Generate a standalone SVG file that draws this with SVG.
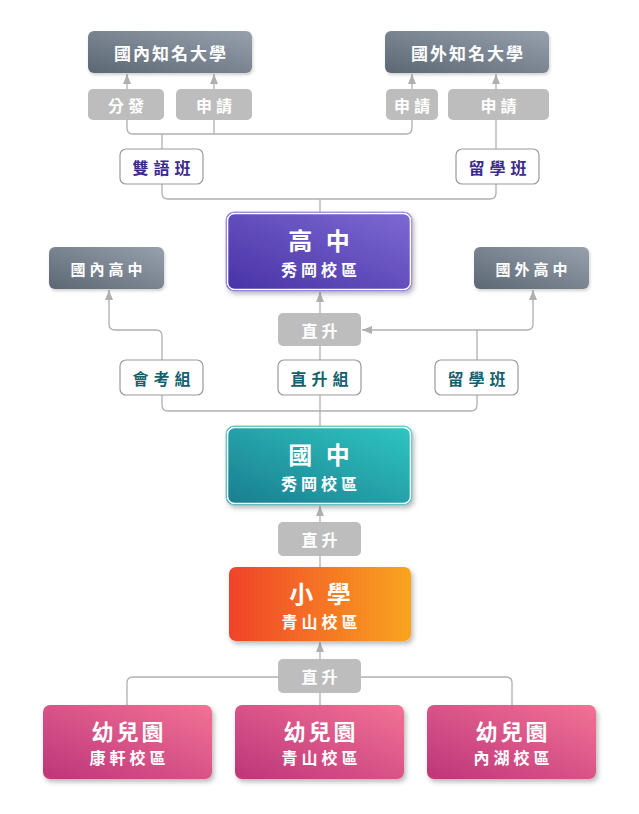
<svg xmlns="http://www.w3.org/2000/svg" width="639" height="814" viewBox="0 0 639 814">
<defs>
<linearGradient id="gGray" x1="0" y1="1" x2="1" y2="0"><stop offset="0" stop-color="#5c6774"/><stop offset="1" stop-color="#97a1ad"/></linearGradient>
<linearGradient id="gPurple" x1="0" y1="1" x2="1" y2="0"><stop offset="0" stop-color="#4832a6"/><stop offset="1" stop-color="#7d6ad3"/></linearGradient>
<linearGradient id="gTeal" x1="0" y1="1" x2="1" y2="0"><stop offset="0" stop-color="#1a7d8f"/><stop offset="1" stop-color="#2fc6c1"/></linearGradient>
<linearGradient id="gOrange" x1="0" y1="0" x2="1" y2="0"><stop offset="0" stop-color="#f0432a"/><stop offset="1" stop-color="#f9a41f"/></linearGradient>
<linearGradient id="gPink" x1="0" y1="1" x2="1" y2="0"><stop offset="0" stop-color="#bd357a"/><stop offset="1" stop-color="#f27295"/></linearGradient>
<filter id="sh" x="-10%" y="-20%" width="125%" height="150%"><feDropShadow dx="2" dy="3" stdDeviation="2.5" flood-color="#000" flood-opacity="0.28"/></filter>
<filter id="shs" x="-10%" y="-20%" width="125%" height="150%"><feDropShadow dx="1" dy="2" stdDeviation="1.5" flood-color="#000" flood-opacity="0.18"/></filter>
<marker id="arr" markerUnits="userSpaceOnUse" markerWidth="10" markerHeight="10" viewBox="0 0 10 10" refX="10" refY="5" orient="auto"><path d="M0,1 L10,5 L0,9 Z" fill="#b0b0b0"/></marker>
<style>
text{font-family:"Noto Sans CJK TC","Noto Sans CJK SC",sans-serif;font-weight:bold;text-anchor:middle;dominant-baseline:central;fill:#fff}
.gl{fill:url(#gGray)}
.sm{fill:#bdbdbd}
.wb{fill:#fff;stroke:#9a9a9a;stroke-width:1.2}
.t17{font-size:17px;letter-spacing:2px}
.t15{font-size:15px;letter-spacing:4px}
.t16{font-size:16px;letter-spacing:4px}
.tw{font-size:16px;letter-spacing:5px}
.big{font-size:24px;letter-spacing:4px}
.kg{font-size:22px;letter-spacing:3px}
.sub{font-size:16px;letter-spacing:4px}
.ind{fill:#3b2a8c}
.tea{fill:#155f6d}
.ln{fill:none;stroke:#b0b0b0;stroke-width:1.3}
</style>
</defs>
<g id="connectors" class="ln">
<path d="M127,89 V74" marker-end="url(#arr)"/>
<path d="M214,89 V74" marker-end="url(#arr)"/>
<path d="M412,89 V74" marker-end="url(#arr)"/>
<path d="M496,89 V74" marker-end="url(#arr)"/>
<path d="M127,120 V128 Q127,134 133,134 H406 Q412,134 412,128 V120"/>
<path d="M214,120 V134"/>
<path d="M162,134 V149"/>
<path d="M496,120 V149"/>
<path d="M162,184 V193 Q162,199 168,199 H490 Q496,199 496,193 V184"/>
<path d="M320,199 V212"/>
<path d="M162,360 V336 Q162,330 156,330 H115 Q109,330 109,324 V290" marker-end="url(#arr)"/>
<path d="M477,360 V330 H362" marker-end="url(#arr)"/>
<path d="M477,330 H527 Q533,330 533,324 V290" marker-end="url(#arr)"/>
<path d="M320,313 V292" marker-end="url(#arr)"/>
<path d="M320,346 V360"/>
<path d="M162,395 V405 Q162,411 168,411 H471 Q477,411 477,405 V395"/>
<path d="M320,395 V426"/>
<path d="M320,522 V506" marker-end="url(#arr)"/>
<path d="M320,556 V567"/>
<path d="M320,659 V642" marker-end="url(#arr)"/>
<path d="M127,705 V683 Q127,677 133,677 H506 Q512,677 512,683 V705"/>
<path d="M320,693 V705"/>
</g>
<g id="uni-domestic"><rect x="88" y="31" width="164" height="42" rx="6" class="gl" filter="url(#shs)"/><text x="171" y="52" class="t17">國內知名大學</text></g>
<g id="uni-foreign"><rect x="385" y="31" width="164" height="42" rx="6" class="gl" filter="url(#shs)"/><text x="468" y="52" class="t17">國外知名大學</text></g>
<g id="l-fenfa"><rect x="88" y="89" width="76" height="31" rx="5" class="sm"/><text x="128" y="104.5" class="t16">分發</text></g>
<g id="l-shenqing1"><rect x="176" y="89" width="76" height="31" rx="5" class="sm"/><text x="216" y="104.5" class="t16">申請</text></g>
<g id="l-shenqing2"><rect x="386" y="89" width="52" height="31" rx="5" class="sm"/><text x="414" y="104.5" class="t16">申請</text></g>
<g id="l-shenqing3"><rect x="448" y="89" width="101" height="31" rx="5" class="sm"/><text x="500.5" y="104.5" class="t16">申請</text></g>
<g id="bilingual"><rect x="120" y="149" width="83" height="35" rx="6" class="wb"/><text x="164" y="166.5" class="tw ind">雙語班</text></g>
<g id="abroad-hs"><rect x="456" y="149" width="83" height="35" rx="6" class="wb"/><text x="500" y="166.5" class="tw ind">留學班</text></g>
<g id="highschool"><rect x="226" y="212" width="186" height="79" rx="8" fill="url(#gPurple)" filter="url(#sh)"/><rect x="227.5" y="213.5" width="183" height="76" rx="7" fill="none" stroke="#fff" stroke-width="1.6"/><rect x="226" y="212" width="186" height="79" rx="8" fill="none" stroke="#ada2e6" stroke-width="1"/><text x="321" y="239" class="big">高 中</text><text x="321" y="269" class="sub">秀岡校區</text></g>
<g id="hs-domestic"><rect x="49" y="247" width="115" height="42" rx="6" class="gl" filter="url(#shs)"/><text x="108.5" y="268" class="t15">國內高中</text></g>
<g id="hs-foreign"><rect x="474" y="247" width="115" height="42" rx="6" class="gl" filter="url(#shs)"/><text x="533.5" y="268" class="t15">國外高中</text></g>
<g id="l-zhisheng1"><rect x="278" y="313" width="83" height="33" rx="5" class="sm"/><text x="321.5" y="329.5" class="t16">直升</text></g>
<g id="exam"><rect x="120" y="360" width="83" height="35" rx="6" class="wb"/><text x="164" y="377.5" class="tw tea">會考組</text></g>
<g id="direct"><rect x="278" y="360" width="83" height="35" rx="6" class="wb"/><text x="322" y="377.5" class="tw tea">直升組</text></g>
<g id="abroad-jh"><rect x="435" y="360" width="83" height="35" rx="6" class="wb"/><text x="479" y="377.5" class="tw tea">留學班</text></g>
<g id="juniorhigh"><rect x="226" y="426" width="186" height="79" rx="8" fill="url(#gTeal)" filter="url(#sh)"/><rect x="227.5" y="427.5" width="183" height="76" rx="7" fill="none" stroke="#fff" stroke-width="1.6"/><rect x="226" y="426" width="186" height="79" rx="8" fill="none" stroke="#7fcfd3" stroke-width="1"/><text x="321" y="453" class="big">國 中</text><text x="321" y="482.5" class="sub">秀岡校區</text></g>
<g id="l-zhisheng2"><rect x="278" y="522" width="83" height="34" rx="5" class="sm"/><text x="321.5" y="539" class="t16">直升</text></g>
<g id="elementary"><rect x="229" y="567" width="182" height="74" rx="7" fill="url(#gOrange)" filter="url(#sh)"/><text x="322" y="592" class="big">小 學</text><text x="321.5" y="621" class="sub">青山校區</text></g>
<g id="l-zhisheng3"><rect x="278" y="659" width="83" height="34" rx="5" class="sm"/><text x="321.5" y="676" class="t16">直升</text></g>
<g id="kg-kangxuan"><rect x="43" y="705" width="169" height="74" rx="7" fill="url(#gPink)" filter="url(#sh)"/><text x="129" y="730" class="kg">幼兒園</text><text x="129.5" y="757" class="sub">康軒校區</text></g>
<g id="kg-qingshan"><rect x="235" y="705" width="169" height="74" rx="7" fill="url(#gPink)" filter="url(#sh)"/><text x="321" y="730" class="kg">幼兒園</text><text x="321.5" y="757" class="sub">青山校區</text></g>
<g id="kg-neihu"><rect x="427" y="705" width="169" height="74" rx="7" fill="url(#gPink)" filter="url(#sh)"/><text x="513" y="730" class="kg">幼兒園</text><text x="513.5" y="757" class="sub">內湖校區</text></g>
</svg>
